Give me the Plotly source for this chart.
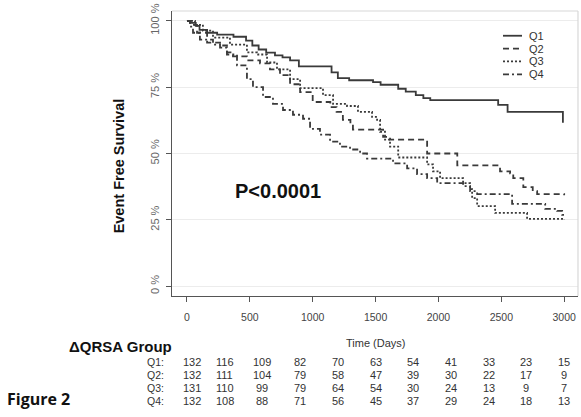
import plotly.graph_objects as go

# ---- data ----
q1_t = [0, 30, 70, 100, 160, 240, 370, 470, 520, 570, 630, 700, 760, 820, 890, 1150, 1200, 1290, 1480, 1540, 1680, 1740, 1820, 1880, 1935, 2475, 2550, 2990]
q1_s = [100, 99.2, 98.1, 96.6, 95.5, 94.8, 94.0, 92.5, 90.7, 89.2, 88.0, 87.0, 86.2, 85.1, 82.8, 80.6, 78.4, 77.6, 76.9, 75.9, 74.4, 73.3, 72.0, 70.9, 70.1, 68.3, 65.7, 61.6]

q2_t = [0, 24, 80, 160, 263, 318, 366, 477, 581, 660, 740, 820, 900, 1000, 1140, 1190, 1240, 1300, 1320, 1560, 1615, 1910, 2150, 2490, 2570, 2595, 2675, 2750, 2785, 3000]
q2_s = [100, 98.5, 95.5, 91.8, 90.7, 88.1, 86.6, 85.1, 84.0, 81.7, 79.5, 76.1, 73.1, 69.4, 67.5, 65.7, 62.7, 60.8, 59.0, 56.3, 55.2, 50.0, 45.5, 43.3, 42.5, 40.7, 37.3, 35.8, 34.7, 34.3]

q3_t = [0, 64, 127, 207, 342, 477, 557, 637, 716, 820, 900, 1082, 1162, 1273, 1360, 1472, 1512, 1536, 1575, 1615, 1680, 1910, 1957, 2013, 2196, 2252, 2268, 2308, 2451, 2705, 3000]
q3_s = [100, 98.5, 96.3, 93.7, 91.0, 88.1, 87.3, 84.3, 81.7, 78.0, 74.6, 72.0, 68.7, 67.9, 65.7, 63.8, 62.7, 58.2, 55.2, 52.6, 48.5, 45.9, 43.3, 40.7, 38.8, 36.6, 33.2, 30.2, 27.6, 25.4, 25.0]

q4_t = [0, 24, 48, 103, 207, 263, 318, 398, 477, 525, 605, 684, 764, 843, 923, 979, 1058, 1138, 1217, 1297, 1377, 1432, 1639, 1751, 1830, 1910, 1990, 2196, 2252, 2308, 2586, 2849, 2944, 2984, 3000]
q4_s = [100, 97.8, 95.5, 92.9, 91.0, 89.9, 87.3, 83.2, 78.0, 75.0, 71.3, 68.7, 66.4, 64.6, 63.1, 59.3, 57.1, 54.5, 52.6, 51.5, 50.0, 48.1, 46.3, 44.4, 42.2, 40.7, 38.8, 37.7, 35.8, 34.7, 31.0, 29.1, 28.4, 26.9, 26.9]

group_names = ["Q1", "Q2", "Q3", "Q4"]
risk_times = [0, 300, 600, 900, 1200, 1500, 1800, 2100, 2400, 2700, 3000]
risk_q1 = [132, 116, 109, 82, 70, 63, 54, 41, 33, 23, 15]
risk_q2 = [132, 111, 104, 79, 58, 47, 39, 30, 22, 17, 9]
risk_q3 = [131, 110, 99, 79, 64, 54, 30, 24, 13, 9, 7]
risk_q4 = [132, 108, 88, 71, 56, 45, 37, 29, 24, 18, 13]

x_ticks = [0, 500, 1000, 1500, 2000, 2500, 3000]
y_ticks = [0, 25, 50, 75, 100]
y_ticktext = ["0 %", "25 %", "50 %", "75 %", "100 %"]

# ---- figure ----
W, H = 581, 417
L, R, T, B = 172, 3, 8, 121
pw, ph = W - L - R, H - T - B


def px(x):
    return (x - L) / pw


def py(y):
    return (H - B - y) / ph


line_col = "#3a3a3a"
dashes = ["solid", "6px,4px", "2px,2px", "6px,3px,2px,3px"]
series = [(q1_t, q1_s), (q2_t, q2_s), (q3_t, q3_s), (q4_t, q4_s)]

fig = go.Figure()
for (t, s), d, n in zip(series, dashes, group_names):
    fig.add_trace(go.Scatter(x=t, y=s, mode="lines", name=n,
                             line=dict(color=line_col, width=1.8, dash=d, shape="hv"),
                             showlegend=False, hoverinfo="skip"))

font_main = "Liberation Sans, Arial, sans-serif"

fig.update_layout(
    width=W, height=H, autosize=False,
    margin=dict(l=L, r=R, t=T, b=B, pad=0),
    paper_bgcolor="white", plot_bgcolor="white",
    font=dict(family=font_main, color="#444", size=10),
    xaxis=dict(range=[-119, 3110], tickvals=x_ticks, showgrid=False, zeroline=False,
               showline=True, linecolor="#555", linewidth=1.2,
               ticks="outside", ticklen=5, tickcolor="#555", tickwidth=1.2,
               tickfont=dict(size=10.5, color="#444"), ticklabelstandoff=6),
    yaxis=dict(range=[-3.7, 103.7], tickvals=y_ticks, ticktext=y_ticktext,
               showgrid=True, gridcolor="#ececec", gridwidth=1, zeroline=False,
               showline=True, linecolor="#555", linewidth=1.2,
               ticks="outside", ticklen=5, tickcolor="#555", tickwidth=1.2,
               tickangle=-90, tickfont=dict(size=11, color="#666"), ticklabelstandoff=3),
)

# light box at top/right
fig.add_shape(type="line", xref="paper", yref="paper", x0=0, x1=1, y0=1, y1=1,
              line=dict(color="#d8d8d8", width=1.2))
fig.add_shape(type="line", xref="paper", yref="paper", x0=1, x1=1, y0=0, y1=1,
              line=dict(color="#d8d8d8", width=1.2))

# legend (manual)
leg_y = [33, 46, 59, 72]
for n, d, yy in zip(group_names, dashes, leg_y):
    fig.add_shape(type="line", xref="paper", yref="paper", x0=px(503), x1=px(522),
                  y0=py(yy), y1=py(yy), line=dict(color=line_col, width=1.8, dash=d))
    fig.add_annotation(xref="paper", yref="paper", x=px(527), y=py(yy), text=n,
                       showarrow=False, xanchor="left", yanchor="middle",
                       font=dict(size=11, color="#333"))

# P-value
fig.add_annotation(x=724, y=36, xref="x", yref="y", text="<b>P<0.0001</b>", showarrow=False,
                   xanchor="center", yanchor="middle", font=dict(size=20, color="#111"))

# axis titles
fig.add_annotation(xref="paper", yref="paper", x=px(119), y=py(165), text="<b>Event Free Survival</b>",
                   textangle=-90, showarrow=False, xanchor="center", yanchor="middle",
                   font=dict(size=14.5, color="#111"))
fig.add_annotation(xref="x", yref="paper", x=1500, y=py(343), text="Time (Days)",
                   showarrow=False, xanchor="center", yanchor="middle",
                   font=dict(size=11, color="#333"))

# risk table
fig.add_annotation(xref="paper", yref="paper", x=px(67), y=py(347), text="<b>ΔQRSA Group</b>",
                   showarrow=False, xanchor="left", yanchor="middle",
                   font=dict(size=15, color="#111"))
fig.add_annotation(xref="paper", yref="paper", x=px(5), y=py(400), text="<b>Figure 2</b>",
                   showarrow=False, xanchor="left", yanchor="middle",
                   font=dict(size=16, color="#111", family="Open Sans, sans-serif"))

risk_rows = [risk_q1, risk_q2, risk_q3, risk_q4]
row_y = [363, 376, 389, 402]
for n, row, yy in zip(group_names, risk_rows, row_y):
    fig.add_annotation(xref="paper", yref="paper", x=px(166), y=py(yy), text=n + ":",
                       showarrow=False, xanchor="right", yanchor="middle",
                       font=dict(size=10.5, color="#333"))
    for tt, v in zip(risk_times, row):
        fig.add_annotation(xref="x", yref="paper", x=tt + 40 if tt == 0 else tt, y=py(yy), text=str(v),
                           showarrow=False, xanchor="center", yanchor="middle",
                           font=dict(size=11, color="#333"))

fig.write_html("out.html", config={"displayModeBar": False},
               post_script="document.body.style.margin='0px';document.body.style.overflow='hidden';")
